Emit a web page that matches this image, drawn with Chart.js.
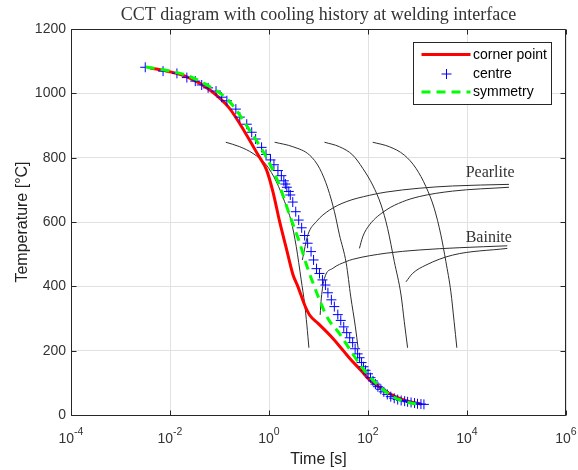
<!DOCTYPE html>
<html>
<head>
<meta charset="utf-8">
<script src="https://cdn.jsdelivr.net/npm/chart.js@4.4.1/dist/chart.umd.min.js"></script>
<style>
html,body{margin:0;padding:0;background:#ffffff;}
canvas{display:block;}
</style>
</head>
<body>
<canvas id="c" width="578" height="470"></canvas>
<script>
// ---------- tick labels ----------
const xTickValues = [1e-4, 1e-2, 1, 1e2, 1e4, 1e6];
const xTickBase = '10';
const xTickExponents = ['-4', '-2', '0', '2', '4', '6'];
const yTickValues = [0, 200, 400, 600, 800, 1000, 1200];

const chartTitle = 'CCT diagram with cooling history at welding interface';
const xAxisTitle = 'Time [s]';
const yAxisTitle = 'Temperature [°C]';
const seriesNames = ['corner point', 'centre', 'symmetry'];
const phaseNames = ['Pearlite', 'Bainite'];

// ---------- cooling histories ----------
const cornerTime = [0.00398, 0.00933, 0.0245, 0.0631, 0.158, 0.324, 0.603, 0.891, 1.202, 1.641, 2.239, 3.041, 3.837, 5.248, 6.607, 9.772, 18.20, 30.90, 45.71, 70.79, 107.2, 177.8, 269.2, 562.3, 1175];
const cornerTemp = [1079, 1068, 1048, 1011, 954, 880, 808, 762, 694, 601, 518, 437, 399, 342, 311, 285, 243, 202, 171, 140, 109, 85, 67, 45, 34];

const centreTime = [0.00316, 0.00724, 0.0138, 0.0219, 0.0324, 0.0437, 0.0589, 0.0851, 0.110, 0.141, 0.214, 0.257, 0.355, 0.447, 0.537, 0.708, 0.871, 1.072, 1.259, 1.514, 1.778, 1.995, 2.138, 2.291, 2.512, 2.692, 3.020, 3.467, 3.981, 4.571, 5.248, 6.026, 7.079, 7.943, 9.120, 10.47, 12.02, 13.80, 15.49, 18.20, 20.89, 24.55, 28.18, 32.36, 37.15, 42.66, 48.98, 54.95, 61.66, 67.61, 74.13, 81.28, 89.13, 100, 112.2, 125.9, 141.3, 158.5, 182.0, 208.9, 245.5, 288.4, 338.8, 398.1, 467.7, 549.5, 631.0, 741.3, 871.0, 1000, 1175, 1349];
const centreTemp = [1081, 1069, 1062, 1049, 1038, 1026, 1017, 1007, 988, 977, 951, 926, 904, 879, 858, 832, 810, 793, 778, 760, 744, 728, 718, 708, 695, 684, 662, 632, 606, 582, 558, 534, 508, 482, 455, 440, 420, 404, 380, 358, 337, 312, 294, 274, 256, 240, 225, 206, 190, 178, 163, 150, 139, 128, 116, 106, 96, 88, 80, 72, 64, 57, 52, 48, 45, 43, 41, 39, 37, 35, 34, 33];

const symmetryTime = [0.00324, 0.00933, 0.0234, 0.0631, 0.158, 0.407, 0.933, 1.585, 2.630, 4.169, 5.623, 7.413, 10.47, 15.49, 26.30, 38.90, 53.70, 74.13, 123.0, 316.2, 588.8, 1096];
const symmetryTemp = [1082, 1070, 1054, 1021, 975, 885, 795, 718, 620, 535, 470, 418, 358, 300, 254, 214, 181, 150, 110, 57, 41, 32];

// ---------- CCT transformation curves ----------
const curveATime = [0.134, 0.257, 0.476, 0.887, 1.41, 2.07, 2.82, 3.55, 4.47, 5.25, 5.82, 6.40];
const curveATemp = [848, 834, 813, 777, 725, 663, 601, 524, 420, 345, 280, 209];
const curveBTime = [1.30, 3.04, 6.61, 10.5, 15.4, 21.0, 26.5, 36.3, 44.9, 55.6, 63.1];
const curveBTemp = [848, 834, 808, 767, 705, 632, 560, 472, 367, 274, 208];
const curveCTime = [13.2, 26.5, 49.2, 78.2, 124, 184, 249, 340, 465, 541, 631];
const curveCTemp = [848, 834, 808, 767, 715, 653, 580, 477, 373, 290, 209];
const curveDTime = [124.5, 270, 541, 931, 1479, 2173, 2965, 3741, 4721, 5495, 6237];
const curveDTemp = [848, 834, 808, 767, 710, 643, 560, 477, 383, 290, 209];
const pearlite1Time = [4.71, 6.10, 9.02, 16.7, 36.2, 107, 232, 1084, 5082, 70500];
const pearlite1Temp = [482, 560, 601, 637, 663, 683, 693, 705, 712, 717];
const pearlite2Time = [67.1, 78.2, 107, 232, 500, 1084, 5082, 70500];
const pearlite2Temp = [518, 554, 591, 637, 663, 679, 696, 708];
const bainite1Time = [10.8, 11.4, 13.2, 19.5, 36.2, 49.2, 232, 1084, 6934, 65160];
const bainite1Temp = [311, 363, 425, 456, 477, 484, 503, 513, 520, 526];
const bainite2Time = [585, 794, 1479, 5082, 65160];
const bainite2Temp = [414, 440, 466, 497, 518];

// ---------- helpers ----------
const SANS = "'Liberation Sans', Arial, Helvetica, sans-serif";
const SERIF = "'Liberation Serif', 'Times New Roman', serif";
Chart.defaults.font.family = SANS;

function pts(t, T) { return t.map((v, i) => ({ x: v, y: T[i] })); }
function guide(t, T) {
  return {
    label: '', data: pts(t, T), showLine: true, borderColor: '#2e2e2e', borderWidth: 1,
    pointRadius: 0, pointHoverRadius: 0, cubicInterpolationMode: 'monotone', order: 10
  };
}

const datasets = [
  { label: seriesNames[0], data: pts(cornerTime, cornerTemp), showLine: true,
    borderColor: '#ff0000', backgroundColor: '#ff0000', borderWidth: 3, pointRadius: 0,
    cubicInterpolationMode: 'monotone', borderJoinStyle: 'round', order: 2 },
  { label: seriesNames[1], data: pts(centreTime, centreTemp), showLine: false,
    borderColor: '#0000ff', backgroundColor: '#0000ff', pointStyle: 'cross',
    pointRadius: 5, pointBorderWidth: 1, pointHoverRadius: 5, order: 1 },
  { label: seriesNames[2], data: pts(symmetryTime, symmetryTemp), showLine: true,
    borderColor: '#00ff00', backgroundColor: '#00ff00', borderWidth: 3, borderDash: [9, 6],
    pointRadius: 0, cubicInterpolationMode: 'monotone', order: 0 },
  guide(curveATime, curveATemp),
  guide(curveBTime, curveBTemp),
  guide(curveCTime, curveCTemp),
  guide(curveDTime, curveDTemp),
  guide(pearlite1Time, pearlite1Temp),
  guide(pearlite2Time, pearlite2Temp),
  guide(bainite1Time, bainite1Temp),
  guide(bainite2Time, bainite2Temp)
];

// ---------- plugins ----------
const framePlugin = {
  id: 'frame',
  afterDatasetsDraw(chart) {
    const { ctx, chartArea: a, scales: { x, y } } = chart;
    ctx.save();
    ctx.strokeStyle = '#262626';
    ctx.lineWidth = 1;
    const L = a.left + 0.5, R = a.right - 0.5, T = a.top + 0.5, B = a.bottom + 0.5;
    ctx.beginPath();
    ctx.rect(L, T, R - L, B - T);
    ctx.stroke();
    ctx.beginPath();
    xTickValues.forEach(v => {
      const px = Math.round(x.getPixelForValue(v)) + 0.5;
      ctx.moveTo(px, B); ctx.lineTo(px, B - 5);
      ctx.moveTo(px, T); ctx.lineTo(px, T + 5);
    });
    yTickValues.forEach(v => {
      const py = Math.round(y.getPixelForValue(v)) + 0.5;
      ctx.moveTo(L, py); ctx.lineTo(L + 5, py);
      ctx.moveTo(R, py); ctx.lineTo(R - 5, py);
    });
    ctx.stroke();

    // x tick labels: base with raised exponent
    ctx.fillStyle = '#333333';
    ctx.textBaseline = 'alphabetic';
    ctx.textAlign = 'left';
    const baseFont = '14px ' + SANS, expFont = '10.5px ' + SANS;
    xTickValues.forEach((v, i) => {
      const px = x.getPixelForValue(v);
      ctx.font = baseFont;
      const wb = ctx.measureText(xTickBase).width;
      ctx.font = expFont;
      const we = ctx.measureText(xTickExponents[i]).width;
      const x0 = px - (wb + we) / 2;
      ctx.font = baseFont;
      ctx.fillText(xTickBase, x0, a.bottom + 28);
      ctx.font = expFont;
      ctx.fillText(xTickExponents[i], x0 + wb, a.bottom + 20);
    });
    ctx.restore();
  }
};

const phaseLabelAnchors = [{ t: 9400, T: 741 }, { t: 9400, T: 539 }];
const phaseLabelPlugin = {
  id: 'phaseLabels',
  afterDatasetsDraw(chart) {
    const { ctx, scales: { x, y } } = chart;
    ctx.save();
    ctx.font = '16px ' + SERIF;
    ctx.fillStyle = '#333333';
    ctx.textAlign = 'left';
    ctx.textBaseline = 'alphabetic';
    phaseNames.forEach((name, i) => {
      const p = phaseLabelAnchors[i];
      ctx.fillText(name, x.getPixelForValue(p.t), y.getPixelForValue(p.T));
    });
    ctx.restore();
  }
};

const legendPlugin = {
  id: 'boxLegend',
  afterDraw(chart) {
    const { ctx, chartArea: a } = chart;
    const bx = Math.round(a.right - 153) + 0.5, by = Math.round(a.top + 13) + 0.5;
    const bw = 138, bh = 62;
    ctx.save();
    ctx.fillStyle = '#ffffff';
    ctx.fillRect(bx, by, bw, bh);
    ctx.strokeStyle = '#262626';
    ctx.lineWidth = 1;
    ctx.strokeRect(bx, by, bw, bh);
    const rows = [12, 31.5, 49.5];
    chart.data.datasets.slice(0, 3).forEach((ds, i) => {
      const cy = by + rows[i];
      ctx.save();
      ctx.strokeStyle = ds.borderColor;
      if (ds.showLine === false) {
        const cx = bx + 33, r = ds.pointRadius;
        ctx.lineWidth = ds.pointBorderWidth;
        ctx.beginPath();
        ctx.moveTo(cx - r, cy); ctx.lineTo(cx + r, cy);
        ctx.moveTo(cx, cy - r); ctx.lineTo(cx, cy + r);
        ctx.stroke();
      } else {
        ctx.lineWidth = ds.borderWidth;
        ctx.setLineDash(ds.borderDash || []);
        ctx.beginPath();
        ctx.moveTo(bx + 8, cy); ctx.lineTo(bx + 57, cy);
        ctx.stroke();
      }
      ctx.restore();
      ctx.font = '14px ' + SANS;
      ctx.fillStyle = '#000000';
      ctx.textAlign = 'left';
      ctx.textBaseline = 'middle';
      ctx.fillText(ds.label, bx + 59.5, cy + 0.5);
    });
    ctx.restore();
  }
};

// ---------- chart ----------
new Chart(document.getElementById('c'), {
  type: 'scatter',
  data: { datasets },
  plugins: [framePlugin, phaseLabelPlugin, legendPlugin],
  options: {
    responsive: false,
    animation: false,
    events: [],
    layout: { padding: { left: 0, right: 12, top: 0, bottom: 0 } },
    plugins: {
      legend: { display: false },
      tooltip: { enabled: false },
      title: {
        display: true, text: chartTitle, fullSize: false,
        font: { family: SERIF, size: 18, weight: 'normal' }, color: '#333333',
        padding: { top: 4, bottom: 3.4 }
      }
    },
    scales: {
      x: {
        type: 'logarithmic', position: 'bottom', min: 1e-4, max: 1e6,
        afterBuildTicks(s) { s.ticks = xTickValues.map(v => ({ value: v })); },
        afterFit(s) { s.height = 55; s.paddingLeft = 0; s.paddingRight = 0; },
        ticks: {
          display: false, autoSkip: false, maxRotation: 0, minRotation: 0,
          callback: (v, i) => xTickBase + '^' + xTickExponents[i]
        },
        grid: { color: '#e1e1e1', lineWidth: 1, drawTicks: false },
        border: { display: false },
        title: {
          display: true, text: xAxisTitle, color: '#222222',
          font: { family: SANS, size: 16 }, padding: { top: 0, bottom: 0.5 }
        }
      },
      y: {
        type: 'linear', position: 'left', min: 0, max: 1200,
        afterBuildTicks(s) { s.ticks = yTickValues.map(v => ({ value: v })); },
        afterFit(s) { s.width = 71; s.paddingTop = 0; s.paddingBottom = 0; },
        ticks: {
          padding: 5, color: '#333333', font: { family: SANS, size: 14 },
          callback: v => String(v)
        },
        grid: { color: '#e1e1e1', lineWidth: 1, drawTicks: false },
        border: { display: false },
        title: {
          display: true, text: yAxisTitle, color: '#222222',
          font: { family: SANS, size: 16 }, padding: { top: 13, bottom: 0 }
        }
      }
    }
  }
});
</script>
</body>
</html>
